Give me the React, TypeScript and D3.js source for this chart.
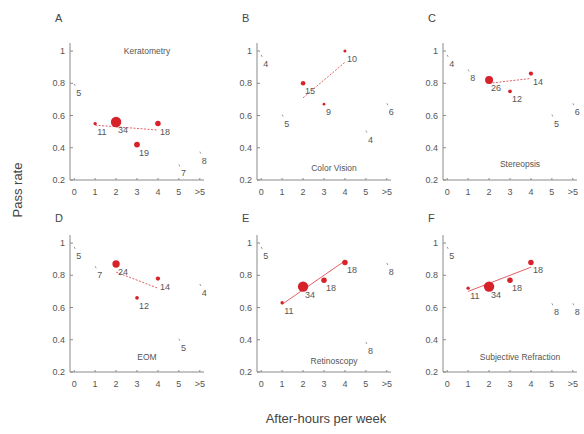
import * as d3 from 'd3';

// x categories (after-hours per week)
const categories = ['0', '1', '2', '3', '4', '5', '>5'];
const yTicks = [0.2, 0.4, 0.6, 0.8, 1];

// pass rate and group size for each panel, one value per category
const keratometryRate = [0.79, 0.55, 0.56, 0.42, 0.55, 0.29, 0.37];
const keratometryN = [5, 11, 34, 19, 18, 7, 8];
const colorVisionRate = [0.97, 0.6, 0.8, 0.67, 1.0, 0.5, 0.67];
const colorVisionN = [4, 5, 15, 9, 10, 4, 6];
const stereopsisRate = [0.97, 0.88, 0.82, 0.75, 0.86, 0.6, 0.67];
const stereopsisN = [4, 8, 26, 12, 14, 5, 6];
const eomRate = [0.97, 0.85, 0.87, 0.66, 0.78, 0.4, 0.74];
const eomN = [5, 7, 24, 12, 14, 5, 4];
const retinoscopyRate = [0.97, 0.63, 0.73, 0.77, 0.88, 0.38, 0.87];
const retinoscopyN = [5, 11, 34, 18, 18, 8, 8];
const refractionRate = [0.97, 0.72, 0.73, 0.77, 0.88, 0.62, 0.62];
const refractionN = [5, 11, 34, 18, 18, 8, 8];

// fitted trend lines: [x start, y start, x end, y end]
const keratometryFit = [1, 0.54, 4, 0.51];
const colorVisionFit = [2, 0.71, 4, 0.93];
const stereopsisFit = [2, 0.8, 4, 0.83];
const eomFit = [2, 0.82, 4, 0.72];
const retinoscopyFit = [1, 0.62, 4, 0.89];
const refractionFit = [1, 0.7, 4, 0.85];

const panels = [
  { letter: 'A', title: 'Keratometry', rate: keratometryRate, n: keratometryN, fit: keratometryFit, dashed: true, titleY: 1.0 },
  { letter: 'B', title: 'Color Vision', rate: colorVisionRate, n: colorVisionN, fit: colorVisionFit, dashed: true, titleY: 0.275 },
  { letter: 'C', title: 'Stereopsis', rate: stereopsisRate, n: stereopsisN, fit: stereopsisFit, dashed: true, titleY: 0.3 },
  { letter: 'D', title: 'EOM', rate: eomRate, n: eomN, fit: eomFit, dashed: true, titleY: 0.29 },
  { letter: 'E', title: 'Retinoscopy', rate: retinoscopyRate, n: retinoscopyN, fit: retinoscopyFit, dashed: false, titleY: 0.27 },
  { letter: 'F', title: 'Subjective Refraction', rate: refractionRate, n: refractionN, fit: refractionFit, dashed: false, titleY: 0.29 },
];

const colLeft = [70, 257, 443];
const rowBottom = [180, 372];
const letterY = [22, 222];
const plotW = 134;
const plotH = 137;
const red = '#d7222a';
const axisGray = '#8a8a8a';
const textGray = '#555';
const font = 'Liberation Sans, Arial, sans-serif';

const Panel = ({ p, i }) => {
  const row = Math.floor(i / 3);
  const left = colLeft[i % 3];
  const bottom = rowBottom[row];
  const top = bottom - plotH;
  const x = d3.scaleLinear().domain([-0.2, 6.2]).range([0, plotW]);
  const y = d3.scaleLinear().domain([0.2, 1.05]).range([plotH, 0]);
  const r = d3.scaleLinear().domain([0, 34]).range([0, 5.2]);
  return (
    <g transform={`translate(${left},${top})`} fontFamily={font}>
      <text x={-15} y={letterY[row] - top} fontSize={11} fill="#444">{p.letter}</text>
      <line x1={0} x2={0} y1={0} y2={plotH} stroke={axisGray} strokeWidth={1} />
      <line x1={0} x2={plotW} y1={plotH} y2={plotH} stroke={axisGray} strokeWidth={1} />
      {yTicks.map(t => (
        <g key={t}>
          <line x1={0} x2={3} y1={y(t)} y2={y(t)} stroke={axisGray} />
          <text x={-5} y={y(t) + 3} fontSize={9} textAnchor="end" fill={textGray}>{t}</text>
        </g>
      ))}
      {categories.map((c, k) => (
        <g key={c}>
          <line x1={x(k)} x2={x(k)} y1={plotH} y2={plotH - 2} stroke={axisGray} />
          <text x={x(k)} y={plotH + 15} fontSize={9} textAnchor="middle" fill={textGray}>{c}</text>
        </g>
      ))}
      <text x={plotW / 2 + 10} y={y(p.titleY) + 3} fontSize={8.5} textAnchor="middle" fill={textGray}>{p.title}</text>
      <line x1={x(p.fit[0])} y1={y(p.fit[1])} x2={x(p.fit[2])} y2={y(p.fit[3])}
        stroke={red} strokeWidth={0.9} strokeOpacity={0.8} strokeDasharray={p.dashed ? '2,1.5' : undefined} />
      {p.rate.map((v, k) => {
        const big = p.n[k] >= 9;
        return (
          <g key={k}>
            {big
              ? <circle cx={x(k)} cy={y(v)} r={r(p.n[k])} fill={red} />
              : <line x1={x(k)} x2={x(k) + 1} y1={y(v) - 1} y2={y(v) + 1} stroke="#999" strokeWidth={1} />}
            <text x={x(k) + 2} y={y(v) + 11} fontSize={9} fill={textGray}>{p.n[k]}</text>
          </g>
        );
      })}
    </g>
  );
};

export default function App() {
  return (
    <svg width={584} height={434} style={{ position: 'absolute', left: 0, top: 0, background: '#fff' }}>
      {panels.map((p, i) => <Panel key={p.letter} p={p} i={i} />)}
      <text transform="translate(22,190) rotate(-90)" fontSize={13} textAnchor="middle" fill="#444" fontFamily={font}>Pass rate</text>
      <text x={326} y={423} fontSize={13} textAnchor="middle" fill="#444" fontFamily={font}>After-hours per week</text>
    </svg>
  );
}
